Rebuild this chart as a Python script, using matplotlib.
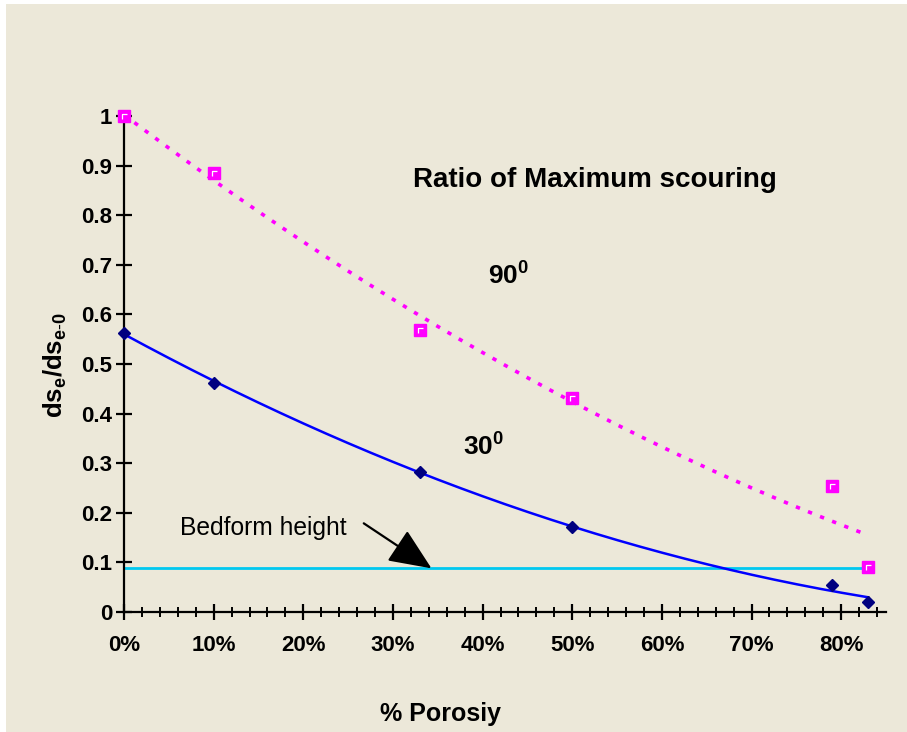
import numpy as np
import matplotlib
matplotlib.use("Agg")
import matplotlib.pyplot as plt
from matplotlib.path import Path
from matplotlib.ticker import MultipleLocator

plt.rcParams['font.family'] = ['Liberation Sans', 'DejaVu Sans']
plt.rcParams['mathtext.fontset'] = 'custom'
plt.rcParams['mathtext.rm'] = 'Liberation Sans'
plt.rcParams['mathtext.bf'] = 'Liberation Sans:bold'

# data (porosity in %)
porosity = [0, 10, 33, 50, 79, 83]
ratio_90 = [1.0, 0.885, 0.569, 0.432, 0.255, 0.091]
ratio_30 = [0.563, 0.462, 0.282, 0.171, 0.054, 0.0195]
bedform = 0.088
xtick_vals = [0, 10, 20, 30, 40, 50, 60, 70, 80]
xtick_labels = ['0%', '10%', '20%', '30%', '40%', '50%', '60%', '70%', '80%']
ytick_vals = [0, 0.1, 0.2, 0.3, 0.4, 0.5, 0.6, 0.7, 0.8, 0.9, 1]
ytick_labels = ['0', '0.1', '0.2', '0.3', '0.4', '0.5', '0.6', '0.7', '0.8', '0.9', '1']

bg = '#ECE8D9'
fig = plt.figure(figsize=(9.07, 7.32), dpi=100)
fig.patch.set_facecolor('white')
fig.patches.append(plt.Rectangle((6/907, 0), 1, 1 - 4/732, transform=fig.transFigure,
                                 facecolor=bg, edgecolor='none', zorder=-10))
ax = fig.add_axes([124/907, 1 - 612/732, (886 - 124)/907, (612 - 116)/732])
ax.set_facecolor('none')

# polynomial (order 2) trendlines, as in the spreadsheet
xs = np.linspace(0, 83, 200)
p90 = np.polyfit(porosity, ratio_90, 2)
p30 = np.polyfit(porosity, ratio_30, 2)
ax.plot(xs, np.polyval(p90, xs), color='#FF00FF', lw=2.6, ls=(0, (1.2, 2.4)), zorder=2)
ax.plot(xs, np.polyval(p30, xs), color='#0000FF', lw=1.8, zorder=2)

ax.plot([0, 83], [bedform, bedform], color='#00C8F0', lw=2, zorder=1)

ax.plot(porosity, ratio_90, ls='none', marker='s', ms=8.5, mfc='#FF00FF', mec='#FF00FF',
        zorder=4, clip_on=False)
hl = Path([(-0.5, -0.6), (-0.5, 0.5), (0.6, 0.5)], [Path.MOVETO, Path.LINETO, Path.LINETO])
ax.plot(porosity, ratio_90, ls='none', marker=hl, ms=4, mfc='none', mec='white', mew=0.9,
        zorder=5, clip_on=False)
ax.plot(porosity, ratio_30, ls='none', marker='D', ms=6, mfc='#000080', mec='#000080',
        zorder=4, clip_on=False)

ax.set_xlim(0, 85)
ax.set_ylim(0, 1)
ax.spines['top'].set_visible(False)
ax.spines['right'].set_visible(False)
for s in ('left', 'bottom'):
    ax.spines[s].set_linewidth(1.6)
    ax.spines[s].set_color('black')

ax.set_xticks(xtick_vals)
ax.set_xticklabels(xtick_labels, fontsize=16, fontweight='bold')
ax.xaxis.set_minor_locator(MultipleLocator(2))
ax.set_yticks(ytick_vals)
ax.set_yticklabels(ytick_labels, fontsize=16, fontweight='bold')
ax.tick_params(axis='both', which='major', direction='inout', length=11, width=1.6, color='black')
ax.tick_params(axis='x', which='major', pad=11)
ax.tick_params(axis='y', which='major', pad=3)
ax.tick_params(axis='x', which='minor', direction='inout', length=7, width=1.4, color='black')

ax.text(52.5, 0.857, 'Ratio of Maximum scouring', fontsize=20, fontweight='bold',
        ha='center', va='baseline')
ax.text(40.6, 0.663, r'90$^\mathbf{0}$', fontsize=19, fontweight='bold', va='baseline')
ax.text(37.8, 0.318, r'30$^\mathbf{0}$', fontsize=19, fontweight='bold', va='baseline')
ax.annotate('Bedform height', xy=(34.3, bedform), xytext=(6.3, 0.155),
            fontsize=17.7, va='baseline', ha='left',
            arrowprops=dict(arrowstyle='-|>,head_length=1.5,head_width=0.65', color='black', lw=1.6,
                            shrinkA=0, shrinkB=0, relpos=(1.1, 0.7)))

fig.text(55/907, 1 - 365/732, r'$\mathbf{ds_e/ds_{e\text{-}0}}$', rotation=90,
         fontsize=18.5, ha='center', va='center')
fig.text(440/907, 1 - 714/732, '% Porosiy', fontsize=18, fontweight='bold',
         ha='center', va='center')

fig.savefig('out.png', dpi=100, facecolor=fig.get_facecolor())
